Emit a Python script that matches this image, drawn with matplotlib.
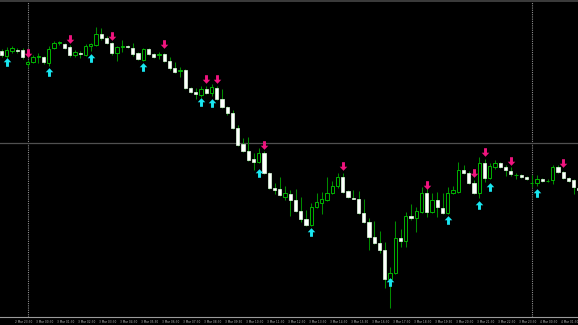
import numpy as np
import pandas as pd
import matplotlib
matplotlib.use("Agg")
import matplotlib.pyplot as plt
import matplotlib.transforms as mtrans
from matplotlib.path import Path
from matplotlib.lines import Line2D

# M15 candles, prices in points (chart has no price scale)
opens = [279, 274, 279, 280, 280, 266, 268, 273.5, 273, 267,
         282, 287, 286, 283, 275, 277, 275, 284, 285, 296,
         292, 287, 277, 283, 284, 282, 277, 270, 281, 276,
         275, 276, 269, 262, 259, 260, 242, 238, 235, 241,
         237, 242, 231, 223, 217, 202, 186, 179, 171, 168,
         177, 157, 142, 141, 133, 136, 130, 119, 111, 105,
         123, 127, 130, 137, 144, 153, 139, 132, 131, 117,
         108, 93, 87, 80, 51, 57, 92, 89, 114, 112,
         118, 137, 118, 130, 122, 117, 137, 138, 160, 157,
         147, 137, 167, 152, 163, 167, 163, 159, 155, 155,
         153, 147, 147, 151, 149, 150, 163, 158, 152, 150,
         142]
highs = [281, 283, 284, 282, 282, 270, 275, 277, 274, 284,
         289, 289, 287, 285, 280, 279, 286, 287, 303, 302,
         294, 288, 284, 290, 285, 287, 278, 282, 282, 277,
         278, 277, 273, 268, 263, 261, 243, 242, 244, 244,
         246, 244, 241, 224, 220, 205, 192, 193, 177, 182,
         179, 158, 147, 153, 144, 140, 141, 133, 120, 127,
         137, 138, 153, 149, 157, 157, 140, 140, 139, 131,
         112, 109, 99, 88, 63, 109, 101, 118, 126, 123,
         143, 142, 137, 138, 137, 143, 144, 168, 165, 159,
         150, 173, 171, 167, 170, 168, 165, 163, 157, 156,
         154, 155, 155, 152, 151, 165, 165, 159, 153, 151,
         144]
lows = [273, 272, 277, 277, 271, 263, 267, 267, 266, 264,
        281, 285, 281, 273, 273, 272, 274, 279, 284, 290,
        286, 275, 269, 278, 282, 274, 270, 269, 275, 272,
        271, 268, 260, 257, 253, 241, 237, 231, 233, 236,
        234, 230, 222, 215, 201, 184, 178, 169, 160, 167,
        156, 141, 136, 134, 130, 114, 118, 108, 104, 104,
        122, 116, 129, 136, 142, 137, 132, 131, 116, 107,
        80, 86, 77, 42, 22, 56, 83, 83, 110, 98,
        117, 113, 117, 113, 116, 116, 136, 137, 156, 146,
        136, 132, 148, 151, 161, 162, 154, 154, 151, 152,
        150, 143, 144, 148, 148, 146, 157, 151, 148, 136,
        138]
closes = [275, 280, 282, 279, 273, 268, 273, 274, 268, 281,
          287, 288, 282, 275, 278, 276, 284, 286, 296, 292,
          287, 277, 283, 284, 283, 276, 271, 281, 276, 273,
          276, 269, 262, 258, 260, 242, 238, 236, 241, 237,
          243, 231, 223, 217, 202, 185, 179, 170, 168, 177,
          157, 142, 140, 135, 137, 130, 119, 111, 105, 123,
          128, 131, 137, 144, 153, 138, 133, 131.5, 117, 108,
          93, 87, 80, 51, 57, 92, 89, 114, 112, 119,
          137, 118, 130, 123, 117, 137, 140, 160, 157, 147,
          137, 167, 152, 164, 167, 163, 160, 156, 155.5, 153,
          151, 147.5, 151, 149, 149.5, 163, 158, 152, 149, 143,
          140]

# signal arrows: bar index and price
buy_idx = [1, 9, 17, 27, 38, 40, 49, 59, 74, 85, 91, 93, 102]
buy_price = [268, 258, 272, 263, 228, 227, 157, 98, 48, 110, 125, 143, 137]
sell_idx = [5, 13, 21, 31, 39, 41, 50, 65, 81, 90, 92, 97, 107]
sell_price = [277, 291, 294, 286, 251, 251, 185, 164, 145, 157, 178, 169, 167]

hline_price = 187
first_bar = "2021-03-02 22:45"

o = np.array(opens, float)
h = np.array(highs, float)
l = np.array(lows, float)
c = np.array(closes, float)
x = np.arange(len(o))
times = pd.date_range(first_bar, periods=len(o), freq="15min")

fig = plt.figure(figsize=(5.78, 3.25), dpi=100, facecolor="black")
ax = fig.add_axes([0, 8 / 325, 1, 317 / 325])
ax.set_facecolor("black")
ax.set_xlim(-0.29, 109.8)
ax.set_ylim(13, 330)

# day separators + horizontal line
for i, t in enumerate(times):
    if t.hour == 0 and t.minute == 0:
        ax.axvline(i, color="#8c8c8c", ls=(0, (1, 1)), lw=0.8, zorder=1)
ax.axhline(hline_price, color="#505050", lw=0.9, zorder=1)

# wicks
ax.vlines(x, l, h, color="#008c00", lw=0.75, zorder=2)

# bodies
up = c >= o
dn = ~up
ax.bar(x[up], np.maximum(c[up] - o[up], 0.4), bottom=o[up], width=0.62,
       facecolor="black", edgecolor="#00b400", linewidth=0.7, zorder=3)
ax.bar(x[dn], o[dn] - c[dn], bottom=c[dn], width=0.62,
       facecolor="white", edgecolor="#e0ffe0", linewidth=0.5, zorder=3)

# arrows
arr = [(0, 1), (0.88, 0.05), (0.34, 0.05), (0.34, -1), (-0.34, -1),
       (-0.34, 0.05), (-0.88, 0.05), (0, 1)]
up_arrow = Path(arr)
dn_arrow = Path([(px, -py) for px, py in arr])
ax.plot(buy_idx, buy_price, ls="none", marker=up_arrow, ms=6.2,
        color="#19e6f0", mec="none", zorder=4)
ax.plot(sell_idx, sell_price, ls="none", marker=dn_arrow, ms=6.2,
        color="#f0147f", mec="none", zorder=4)

for s in ["top", "left", "right"]:
    ax.spines[s].set_visible(False)
ax.spines["bottom"].set_color("#9a9a9a")
ax.spines["bottom"].set_linewidth(0.8)
ax.set_xticks([])
ax.set_yticks([])

# time scale labels every hour
trans = mtrans.blended_transform_factory(ax.transData, ax.transAxes)
for i in range(3, len(o), 4):
    t = times[i]
    lab = f"{t.day} {t.strftime('%b %H:%M')}"
    ax.text(i - 0.5, -0.008, lab, transform=trans, fontsize=2.1,
            color="#b4b4b4", ha="left", va="top", clip_on=False)

fig.add_artist(Line2D([0, 1], [1 - 1 / 325] * 2, transform=fig.transFigure,
                      color="#3c3c3c", lw=1.4))

fig.savefig("out.png", dpi=100, facecolor="black")
